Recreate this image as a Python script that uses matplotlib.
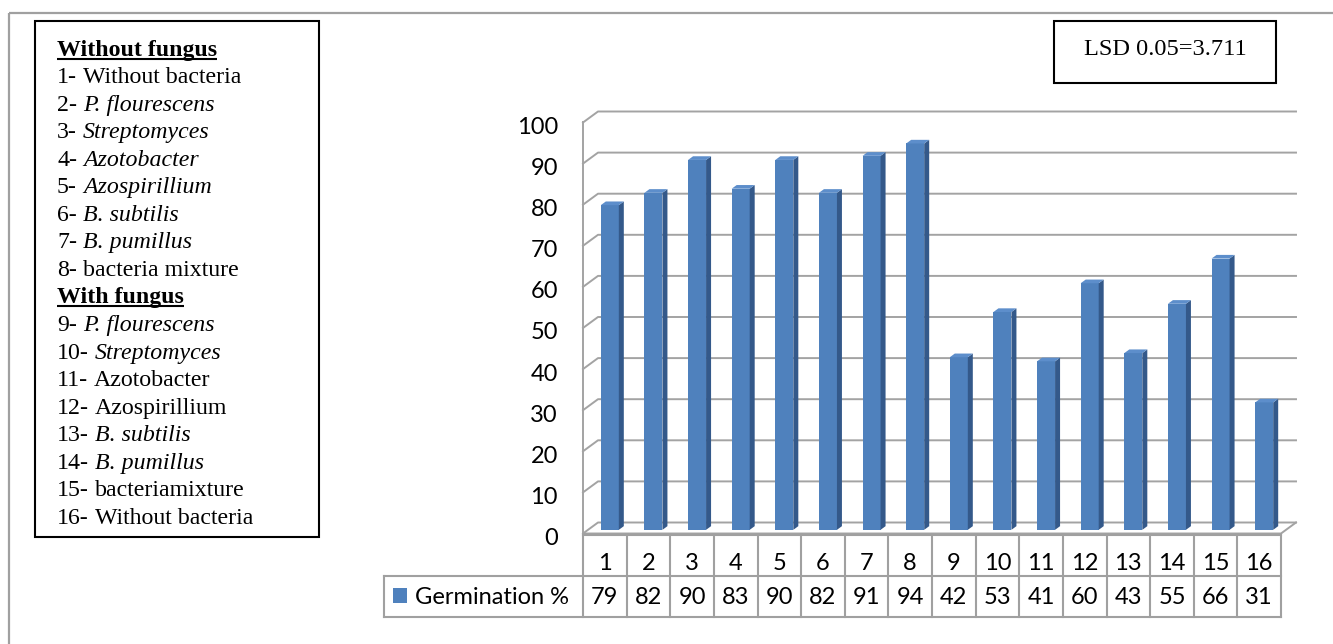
import matplotlib
matplotlib.use("Agg")
import matplotlib.pyplot as plt
from matplotlib.patches import Polygon, Rectangle

# ---------------- data ----------------
categories = ["1", "2", "3", "4", "5", "6", "7", "8",
              "9", "10", "11", "12", "13", "14", "15", "16"]
germination = [79, 82, 90, 83, 90, 82, 91, 94, 42, 53, 41, 60, 43, 55, 66, 31]
series_name = "Germination %"
y_ticks = [0, 10, 20, 30, 40, 50, 60, 70, 80, 90, 100]
lsd_text = "LSD 0.05=3.711"
# (kind, prefix, name, italic)
legend_lines = [
    ("head", "Without fungus", "", False),
    ("item", "1-", "Without bacteria", False),
    ("item", "2-", "P. flourescens", True),
    ("item", "3-", "Streptomyces", True),
    ("item", "4-", "Azotobacter", True),
    ("item", "5-", "Azospirillium", True),
    ("item", "6-", "B. subtilis", True),
    ("item", "7-", "B. pumillus", True),
    ("item", "8-", "bacteria mixture", False),
    ("head", "With fungus", "", False),
    ("item", "9-", "P. flourescens", True),
    ("item", "10-", "Streptomyces", True),
    ("item", "11-", "Azotobacter", False),
    ("item", "12-", "Azospirillium", False),
    ("item", "13-", "B. subtilis", True),
    ("item", "14-", "B. pumillus", True),
    ("item", "15-", "bacteriamixture", False),
    ("item", "16-", "Without bacteria", False),
]

# ---------------- style ----------------
SERIF = "Liberation Serif"
SANS = ["Lato", "DejaVu Sans"]
GRID = "#a3a3a3"
FRONT = "#4F81BD"
SIDE = "#34598A"
TOP = "#5D8ECB"

W, H = 1333, 644
fig = plt.figure(figsize=(W / 100, H / 100), dpi=100)
renderer = fig.canvas.get_renderer()

# overlay axes in pixel units (y from top)
fax = fig.add_axes([0, 0, 1, 1])
fax.set_xlim(0, W)
fax.set_ylim(H, 0)
fax.axis("off")

# outer frame (top and left visible)
fax.plot([9, W], [12.7, 12.7], color="#a0a0a0", lw=1.6, solid_capstyle="butt")
fax.plot([9, 9], [12.7, H], color="#a0a0a0", lw=1.6, solid_capstyle="butt")

# ---------------- main chart axes (front plane) ----------------
X0, X1 = 583.0, 1281.0
Y0, PPU = 533.5, 4.11
n = len(categories)
ax = fig.add_axes([X0 / W, 1 - Y0 / H, (X1 - X0) / W, 100 * PPU / H])
ax.set_xlim(0.5, n + 0.5)
ax.set_ylim(0, 100)
ax.axis("off")

cat_px = (X1 - X0) / n


def dxp(px):
    return px / cat_px


def dyp(py):
    return py / PPU


DDX, DDY = dxp(15), dyp(11)   # full depth offset
xl, xr = 0.5, n + 0.5

# side wall slants, back wall gridlines
for v in y_ticks:
    ax.plot([xl, xl + DDX, xr + DDX], [v, v + DDY, v + DDY],
            color=GRID, lw=1.4, clip_on=False, zorder=1)
ax.plot([xl, xl], [0, y_ticks[-1]], color=GRID, lw=1.4, clip_on=False, zorder=1)
ax.plot([xl, xr, xr + DDX], [0, 0, DDY], color=GRID, lw=1.4, clip_on=False, zorder=1)

# bars (occupy middle third of depth)
bw = dxp(18)
f1, f2 = 1 / 3, 2 / 3
ox, oy = (f2 - f1) * DDX, (f2 - f1) * DDY
for i, v in enumerate(germination):
    xc = i + 1
    L = xc - bw / 2 + f1 * DDX
    R = xc + bw / 2 + f1 * DDX
    b = f1 * DDY
    ax.add_patch(Rectangle((L, b), bw, v, facecolor=FRONT, edgecolor="none",
                           clip_on=False, zorder=3))
    ax.add_patch(Polygon([(R, b), (R + ox, b + oy), (R + ox, b + v + oy), (R, b + v)],
                         closed=True, facecolor=SIDE, edgecolor="none",
                         clip_on=False, zorder=3))
    ax.add_patch(Polygon([(L, b + v), (R, b + v), (R + ox, b + v + oy), (L + ox, b + v + oy)],
                         closed=True, facecolor=TOP, edgecolor="none",
                         clip_on=False, zorder=3))

# y tick labels
for v in y_ticks:
    ax.text(xl - dxp(25), v - dyp(11.5), str(v), ha="right", va="baseline",
            fontsize=17, family=SANS, color="black", clip_on=False)

# ---------------- data table ----------------
r_top = -dyp(535 - Y0)
r_mid = -dyp(575.5 - Y0)
r_bot = -dyp(617 - Y0)
t_left = xl + dxp(384 - X0)
TB = dict(color="#a0a0a0", lw=1.5, clip_on=False, zorder=2,
          solid_capstyle="projecting")
ax.plot([xl, xr], [r_top, r_top], **TB)
ax.plot([t_left, xr], [r_mid, r_mid], **TB)
ax.plot([t_left, xr], [r_bot, r_bot], **TB)
ax.plot([t_left, t_left], [r_mid, r_bot], **TB)
for k in range(n + 1):
    ax.plot([xl + k, xl + k], [r_top, r_bot], **TB)

base1 = -dyp(570 - Y0)
base2 = -dyp(603.5 - Y0)
for i, (c, v) in enumerate(zip(categories, germination)):
    ax.text(i + 1, base1, c, ha="center", va="baseline", fontsize=17,
            family=SANS, clip_on=False)
    ax.text(i + 1, base2, str(v), ha="center", va="baseline", fontsize=17,
            family=SANS, clip_on=False)

kx = xl + dxp(392.7 - X0)
ky = -dyp(603 - Y0)
ax.add_patch(Rectangle((kx, ky), dxp(14.6), dyp(14.6), facecolor=FRONT,
                       edgecolor="none", clip_on=False, zorder=3))
ax.text(xl + dxp(415 - X0), base2, series_name, ha="left", va="baseline",
        fontsize=17, family=SANS, clip_on=False)

# ---------------- legend box (left) ----------------
fax.add_patch(Rectangle((35, 20.7), 319 - 35, 537 - 20.7, facecolor="white",
                        edgecolor="black", lw=1.5))
LFS = 17.2
space_px = LFS * 100 / 72 * 0.25   # Times space = 0.25 em
base0, step = 55.5, 27.55
for k, (kind, prefix, name, ital) in enumerate(legend_lines):
    yb = base0 + k * step
    if kind == "head":
        t = fax.text(57, yb, prefix, ha="left", va="baseline", fontsize=LFS,
                     family=SERIF, fontweight="bold")
        bb = t.get_window_extent(renderer)
        fax.plot([bb.x0, bb.x1], [yb + 3, yb + 3], color="black", lw=1.5,
                 solid_capstyle="butt")
    else:
        t = fax.text(57, yb, prefix, ha="left", va="baseline", fontsize=LFS,
                     family=SERIF)
        bb = t.get_window_extent(renderer)
        fax.text(bb.x1 + space_px, yb, name, ha="left", va="baseline", fontsize=LFS,
                 family=SERIF, style="italic" if ital else "normal")

# ---------------- LSD box ----------------
fax.add_patch(Rectangle((1054, 20.7), 1276 - 1054, 82.7 - 20.7, facecolor="white",
                        edgecolor="black", lw=1.5))
fax.text(1165, 55, lsd_text, ha="center", va="baseline", fontsize=17.6, family=SERIF)

fig.savefig("out.png", dpi=100)
